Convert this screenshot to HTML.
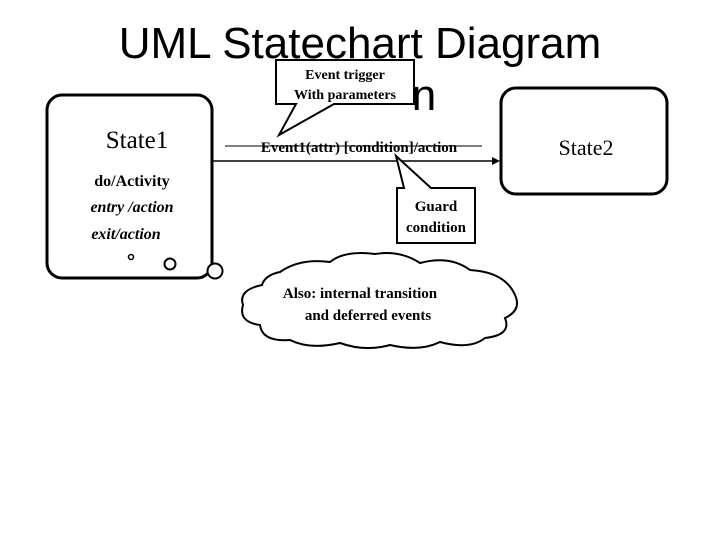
<!DOCTYPE html>
<html><head><meta charset="utf-8"><style>
html,body{margin:0;padding:0;background:#fff;}
svg{display:block}
.t{font-family:"Liberation Serif",serif;font-weight:bold;fill:#000}
</style></head><body>
<svg width="720" height="540" viewBox="0 0 720 540" xmlns="http://www.w3.org/2000/svg">
<text x="360" y="58" text-anchor="middle" font-family="Liberation Sans, sans-serif" font-size="44" fill="#000">UML Statechart Diagram</text>
<text x="424" y="110" text-anchor="middle" font-family="Liberation Sans, sans-serif" font-size="44" fill="#000">n</text>
<!-- State1 -->
<rect x="47" y="95" width="165" height="183" rx="15" fill="#fff" stroke="#000" stroke-width="3"/>
<text x="137" y="148" text-anchor="middle" class="t" style="font-weight:normal" font-size="25">State1</text>
<text x="132" y="186" text-anchor="middle" class="t" font-size="16">do/Activity</text>
<text x="132" y="212" text-anchor="middle" class="t" font-size="16" font-style="italic">entry /action</text>
<text x="126" y="239" text-anchor="middle" class="t" font-size="16" font-style="italic">exit/action</text>
<circle cx="131" cy="257" r="2.5" fill="none" stroke="#000" stroke-width="1.5"/>
<circle cx="170" cy="264" r="5.5" fill="none" stroke="#000" stroke-width="2"/>
<circle cx="215" cy="271" r="7.5" fill="#fff" stroke="#000" stroke-width="2"/>
<!-- State2 -->
<rect x="501" y="88" width="166" height="106" rx="15" fill="#fff" stroke="#000" stroke-width="3"/>
<text x="586" y="155" text-anchor="middle" class="t" style="font-weight:normal" font-size="22">State2</text>
<!-- transition -->
<line x1="212" y1="161" x2="494" y2="161" stroke="#000" stroke-width="1.5"/>
<polygon points="500,161 492,157 492,165" fill="#000"/>
<line x1="225" y1="146" x2="482" y2="146" stroke="#000" stroke-width="1"/>
<text x="359" y="152" text-anchor="middle" class="t" font-size="15">Event1(attr) [condition]/action</text>
<!-- Event callout -->
<path d="M276,60 H414 V104 H334 L279,135 L296,104 H276 Z" fill="#fff" stroke="#000" stroke-width="2"/>
<text x="345" y="79" text-anchor="middle" class="t" font-size="14">Event trigger</text>
<text x="345" y="99" text-anchor="middle" class="t" font-size="14">With parameters</text>
<!-- Guard callout -->
<path d="M397,188 H404 L396,156 L431,188 H475 V243 H397 Z" fill="#fff" stroke="#000" stroke-width="2"/>
<text x="436" y="211" text-anchor="middle" class="t" font-size="15">Guard</text>
<text x="436" y="232" text-anchor="middle" class="t" font-size="15">condition</text>
<!-- cloud -->
<path d="M280,272 Q300,258 330,262 Q345,250 375,254 Q400,250 420,263 Q450,255 470,270 Q505,272 515,295 Q522,310 505,318 Q512,335 485,338 Q470,350 440,342 Q420,352 390,345 Q365,352 340,343 Q310,350 290,340 Q262,342 260,325 Q238,322 243,305 Q238,290 262,285 Q265,275 280,272 Z" fill="#fff" stroke="#000" stroke-width="2"/>
<text x="360" y="298" text-anchor="middle" class="t" font-size="15">Also: internal transition</text>
<text x="368" y="320" text-anchor="middle" class="t" font-size="15">and deferred events</text>
</svg>
</body></html>
